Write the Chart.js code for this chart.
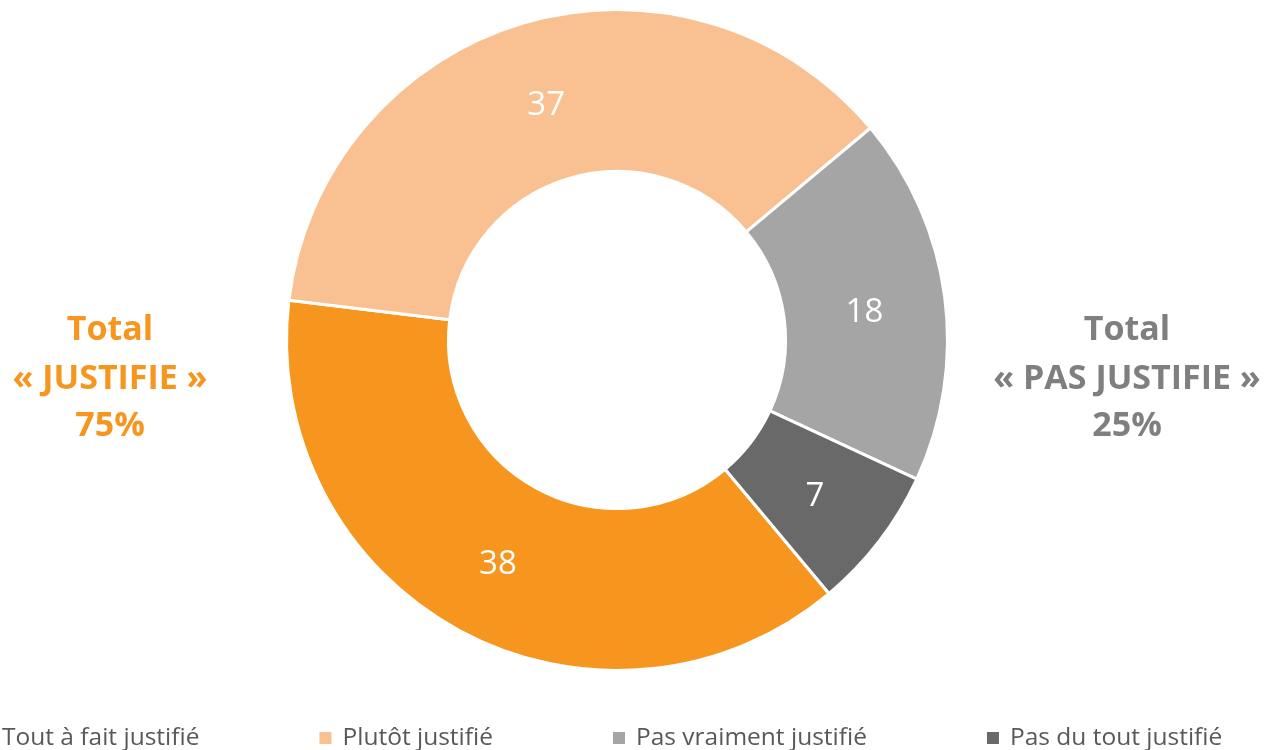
<!DOCTYPE html>
<html>
<head>
<meta charset="utf-8">
<script src="https://cdn.jsdelivr.net/npm/chart.js@4/dist/chart.umd.min.js"></script>
<style>
  html, body { margin: 0; padding: 0; background: #fff; }
  #wrap { width: 1265px; height: 750px; position: relative; }
</style>
</head>
<body>
<div id="wrap"><canvas id="chart"></canvas></div>
<script>
const categories = ['Tout à fait justifié', 'Plutôt justifié', 'Pas vraiment justifié', 'Pas du tout justifié'];
const values = [38, 37, 18, 7];
const colors = ['#F7961E', '#F9C192', '#A5A5A5', '#696969'];
const leftTotal = ['Total', '« JUSTIFIE »', '75%'];
const rightTotal = ['Total', '« PAS JUSTIFIE »', '25%'];

// white numbers in the middle of each ring slice
const sliceLabels = {
  id: 'sliceLabels',
  afterDatasetsDraw(chart) {
    const ctx = chart.ctx;
    const meta = chart.getDatasetMeta(0);
    ctx.save();
    ctx.fillStyle = '#fff';
    ctx.font = '33px "Open Sans", sans-serif';
    ctx.textAlign = 'center';
    ctx.textBaseline = 'middle';
    meta.data.forEach((arc, i) => {
      const p = arc.tooltipPosition();
      ctx.fillText(String(values[i]), p.x, p.y + 5);
    });
    ctx.restore();
  }
};

// side totals + bottom legend (legend runs past left edge like the original)
const extras = {
  id: 'extras',
  afterDraw(chart) {
    const ctx = chart.ctx;
    ctx.save();
    ctx.textAlign = 'center';
    ctx.textBaseline = 'middle';
    ctx.font = 'bold 34px "Open Sans", sans-serif';
    const lineY = [330, 379, 426];
    ctx.fillStyle = '#F7961E';
    leftTotal.forEach((t, i) => ctx.fillText(t, 110, lineY[i]));
    ctx.fillStyle = '#7F7F7F';
    rightTotal.forEach((t, i) => ctx.fillText(t, 1127, lineY[i]));

    ctx.font = '24.5px "Open Sans", sans-serif';
    ctx.textAlign = 'left';
    const box = 12, boxGap = 11, itemGap = 120;
    let x = -21;
    const y = 738;
    categories.forEach((c, i) => {
      ctx.fillStyle = colors[i];
      ctx.fillRect(x, y - box / 2, box, box);
      ctx.fillStyle = '#595959';
      ctx.fillText(c, x + box + boxGap, y);
      x += box + boxGap + ctx.measureText(c).width + itemGap;
    });
    ctx.restore();
  }
};

new Chart(document.getElementById('chart'), {
  type: 'doughnut',
  data: {
    labels: categories,
    datasets: [{
      data: values,
      backgroundColor: colors,
      borderColor: '#fff',
      borderWidth: 3,
      hoverOffset: 0
    }]
  },
  options: {
    responsive: true,
    maintainAspectRatio: false,
    animation: false,
    rotation: 140.1,
    cutout: '51%',
    layout: { padding: { top: 8, bottom: 78, left: 0, right: 31 } },
    plugins: {
      legend: { display: false },
      tooltip: { enabled: false }
    }
  },
  plugins: [sliceLabels, extras]
});
</script>
</body>
</html>
